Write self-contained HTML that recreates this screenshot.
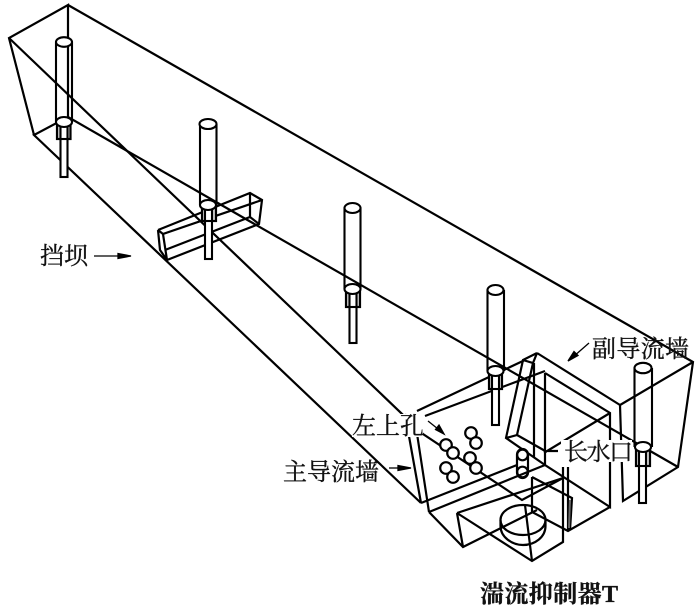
<!DOCTYPE html>
<html><head><meta charset="utf-8"><style>
html,body{margin:0;padding:0;background:#fff;width:700px;height:611px;overflow:hidden}
svg{display:block}
text{font-family:"Liberation Serif","Noto Serif CJK SC",serif;font-size:24px;fill:#111;stroke:#111;stroke-width:.35}
</style></head><body>
<svg width="700" height="611" viewBox="0 0 700 611" xmlns="http://www.w3.org/2000/svg">
<g fill="none" stroke="#000" stroke-width="2.2" stroke-linejoin="miter">
<!-- channel -->
<path d="M34 135L9 38L68 5V117L34 135L421 503"/>
<path d="M68 5L693 362L678 467L623 501L620 405L693 362"/>
<path d="M68 117L678 467"/>
<path d="M9 38L423 434L522 500L563 478"/>
<!-- dam -->
<path d="M158 230L250 193L262 200L259 224L167 260L163 234L262 200M158 230L160 250L167 260M158 230L163 234M165 250L250 217L259 224M250 193V217"/>
<!-- main wall and turbulence box -->
<path d="M417 411L525 360M425 416L545 371"/>
<path d="M405 414L421 503M414 414L429 512"/>
<path d="M421 503L517 465M429 512L545 465"/>
<path d="M429 512L463 547L537 510M457 513L463 547M457 513L563 478M457 513L532 561L563 542V467"/>
<path d="M532 561L525 505M532 477V512L568 531L610 507M532 477L572 498L570 530M568 467V531"/>
<path d="M545 373V465L610 507V413L545 373M610 413L547 451H558"/>
<path d="M537 353L620 405M537 353L523 360L506 438L545 465M533 363L517 435L506 438M523 360L533 363L537 353M534 363V458M517 435L547 452"/>
</g>
<path d="M570 500L569 528" stroke="#666" stroke-width="2" fill="none"/>
<!-- disk -->
<g fill="none" stroke="#000" stroke-width="2.2">
<ellipse cx="523" cy="520" rx="22.500" ry="15"/>
<path d="M500.500 520V526C500.500 537 512 545 523 545C535 545 545.500 537 545.500 526V520"/>
</g>
<!-- holes -->
<g fill="#fff" stroke="#000" stroke-width="2.2">
<circle cx="446" cy="445" r="5.800"/><circle cx="453" cy="453" r="5.800"/>
<circle cx="446" cy="468" r="5.800"/><circle cx="453" cy="477" r="5.800"/>
<circle cx="471" cy="433" r="5.800"/><circle cx="476" cy="443" r="5.800"/>
<circle cx="470" cy="458" r="5.800"/><circle cx="476" cy="468" r="5.800"/>
<rect x="517" y="449" width="11" height="29" rx="5.500" fill="none"/>
<circle cx="522.500" cy="455" r="5.300"/>
<circle cx="522.500" cy="472" r="5.300" fill="none"/>
</g>
<!-- pipes -->
<g fill="none" stroke="#000" stroke-width="2.1">
<path d="M56 42V122M72 42V122"/><rect x="57" y="122" width="13.500" height="17" fill="#ccc"/><rect x="60.500" y="122" width="7" height="55" fill="#fff"/><rect x="57" y="122" width="13.500" height="17"/>
<ellipse cx="64" cy="42" rx="8" ry="4.800" fill="#fff"/><ellipse cx="64" cy="122" rx="8" ry="5" fill="#fff"/>
<path d="M200 124V205M216.500 124V205"/><rect x="202" y="205" width="14" height="16" fill="#ccc"/><rect x="205" y="205" width="7" height="54" fill="#fff"/><rect x="202" y="205" width="14" height="16"/>
<ellipse cx="208" cy="124" rx="8.500" ry="5" fill="#fff"/><ellipse cx="208" cy="205" rx="8" ry="5" fill="#fff"/>
<path d="M344.500 208V289M360.500 208V289"/><rect x="346" y="289" width="14" height="18" fill="#ccc"/><rect x="349.500" y="289" width="7" height="54" fill="#fff"/><rect x="346" y="289" width="14" height="18"/>
<ellipse cx="352.500" cy="208" rx="8" ry="5" fill="#fff"/><ellipse cx="352.500" cy="289" rx="8" ry="5" fill="#fff"/>
<path d="M487.500 290V371M504 290V371"/><rect x="489" y="371" width="13" height="18" fill="#ccc"/><rect x="492" y="371" width="7" height="54" fill="#fff"/><rect x="489" y="371" width="13" height="18"/>
<ellipse cx="495.500" cy="290" rx="8" ry="5" fill="#fff"/><ellipse cx="495.500" cy="371" rx="8" ry="5" fill="#fff"/>
<path d="M634.500 368V447M652 368V447"/><rect x="636" y="447" width="14" height="19" fill="#ccc"/><rect x="639" y="447" width="7" height="56" fill="#fff"/><rect x="636" y="447" width="14" height="19"/>
<ellipse cx="643" cy="368" rx="8.500" ry="5.200" fill="#fff"/><ellipse cx="643" cy="447" rx="8" ry="5" fill="#fff"/>
</g>
<!-- label masks -->
<rect x="352" y="414" width="71" height="23" fill="#fff"/>
<rect x="561" y="440" width="71" height="22" fill="#fff"/>
<!-- arrows -->
<g stroke="#000" stroke-width="1.300" fill="#000">
<path d="M94 256H120"/><path d="M131 256L118 253.500V258.500Z"/>
<path d="M589 343L573 357"/><path d="M568 361L578 355.500L574 351.500Z"/>
<path d="M428 421L438 429"/><path d="M444 434L439 425L435.500 429.500Z"/>
<path d="M389 468H400"/><path d="M411 468L398 465.500V470.500Z"/>
</g>
<!-- labels -->
<text x="40" y="264" textLength="48">挡坝</text>
<text x="592" y="357" textLength="97">副导流墙</text>
<text x="352" y="434" textLength="72">左上孔</text>
<text x="283" y="480" textLength="96">主导流墙</text>
<text x="564" y="460" textLength="69">长水口</text>
<text x="480" y="602" textLength="138" style="font-weight:bold">湍流抑制器T</text>
</svg>
</body></html>
